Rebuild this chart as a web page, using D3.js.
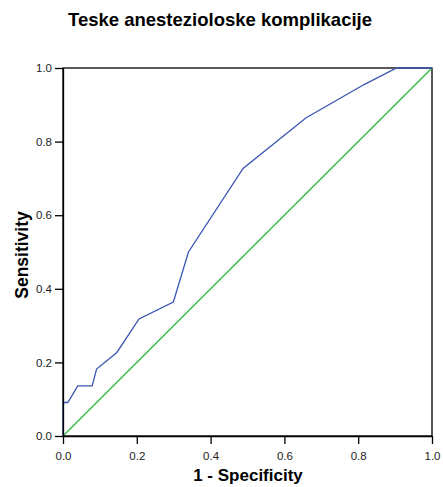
<!DOCTYPE html>
<html><head><meta charset="utf-8">
<script src="https://cdn.jsdelivr.net/npm/d3@7"></script>
<style>body{margin:0;background:#fff}svg{display:block}</style>
</head><body>
<script>
const fpr = [0, 0, 0.013, 0.04, 0.079, 0.091, 0.146, 0.206, 0.299, 0.34, 0.488, 0.658, 0.816, 0.904, 1.0];
const tpr = [0, 0.091, 0.091, 0.136, 0.136, 0.182, 0.227, 0.318, 0.364, 0.5, 0.727, 0.864, 0.955, 1.0, 1.0];
const refX = [0, 1];
const refY = [0, 1];
const ticks = [0, 0.2, 0.4, 0.6, 0.8, 1.0];
const title = "Teske anesteziološke komplikacije".replace("š","s");

const W = 443, H = 487;
const m = {l: 63, r: 11, t: 68, b: 51};
const svg = d3.select("body").append("svg").attr("width", W).attr("height", H);
const x = d3.scaleLinear().domain([0,1]).range([m.l, W - m.r]);
const y = d3.scaleLinear().domain([0,1]).range([H - m.b, m.t]);
const font = "'Liberation Sans', Arial, sans-serif";

svg.append("text").attr("x", 220).attr("y", 25.7).attr("text-anchor","middle")
  .style("font-family", font).style("font-weight","bold").style("font-size","18.5px").text(title);

// frame
svg.append("rect").attr("x", x(0)).attr("y", y(1)).attr("width", x(1)-x(0)).attr("height", y(0)-y(1))
  .attr("fill","none").attr("stroke","#000").attr("stroke-width",1.3);

const line = d3.line().x(d => x(d[0])).y(d => y(d[1]));
svg.append("path").datum(refX.map((v,i)=>[v, refY[i]])).attr("d", line)
  .attr("fill","none").attr("stroke","#2fb844").attr("stroke-width",1.3);
svg.append("path").datum(fpr.map((v,i)=>[v, tpr[i]])).attr("d", line)
  .attr("fill","none").attr("stroke","#3a55b2").attr("stroke-width",1.3);

const xa = svg.append("g").attr("transform",`translate(0,${y(0)})`)
  .call(d3.axisBottom(x).tickValues(ticks).tickFormat(d3.format(".1f")).tickSize(8).tickPadding(4).tickSizeOuter(0));
const ya = svg.append("g").attr("transform",`translate(${x(0)},0)`)
  .call(d3.axisLeft(y).tickValues(ticks).tickFormat(d3.format(".1f")).tickSize(8).tickPadding(3).tickSizeOuter(0));
[xa, ya].forEach(g => {
  g.select(".domain").attr("stroke","#000").attr("stroke-width",1.3);
  g.selectAll(".tick line").attr("stroke","#000").attr("stroke-width",1.3);
  g.selectAll(".tick text").style("font-family", font).style("font-size","11.5px").attr("fill","#222");
});
xa.selectAll(".tick text").attr("y", 15.5).attr("dy","0.72em");

svg.append("text").attr("x", 248).attr("y", 481).attr("text-anchor","middle")
  .style("font-family", font).style("font-weight","bold").style("font-size","17px").text("1 - Specificity");
svg.append("text").attr("transform","translate(28,255) rotate(-90)").attr("text-anchor","middle")
  .style("font-family", font).style("font-weight","bold").style("font-size","17.5px").text("Sensitivity");
</script>
</body></html>
